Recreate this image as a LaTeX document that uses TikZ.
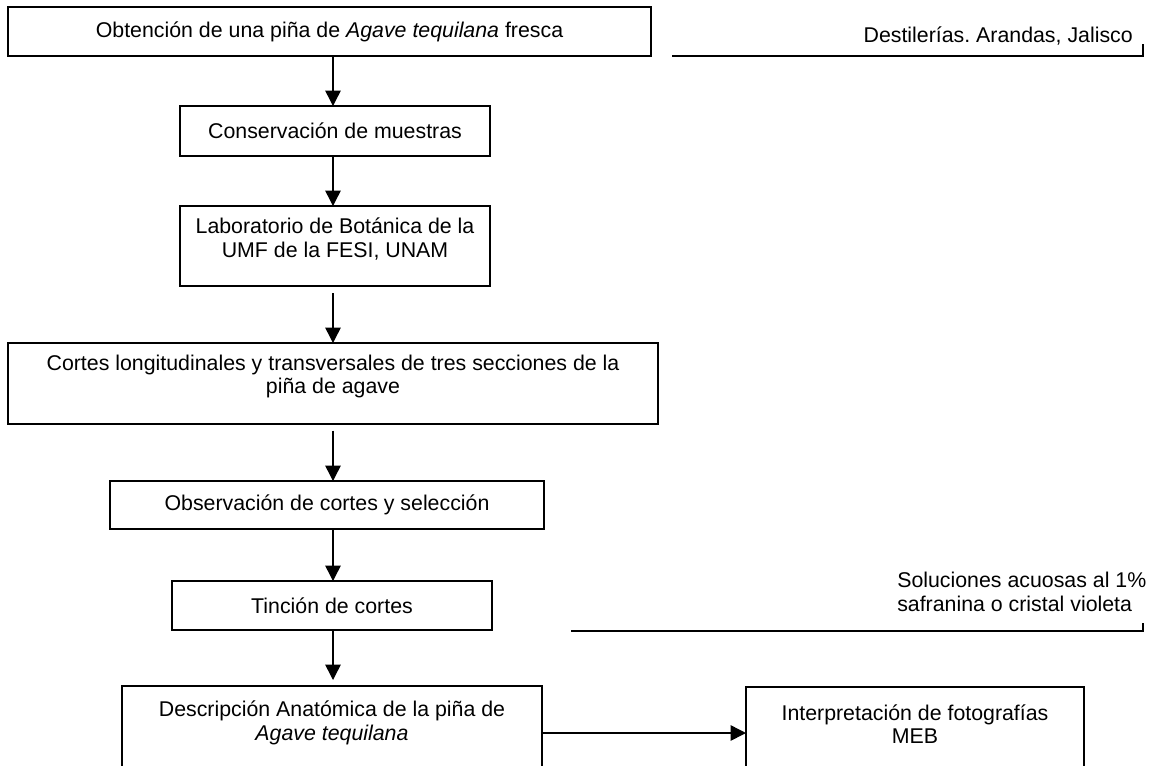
\documentclass[tikz,border=0pt]{standalone}
\usepackage{fontspec}
\setmainfont{Liberation Sans}
\usetikzlibrary{arrows.meta}
\newdimen\pxu
\pxu=0.75pt
\frenchspacing
\begin{document}
\begin{tikzpicture}[x=0.75pt, y=-0.75pt,
  every node/.style={font=\fontsize{16pt}{17.5pt}\selectfont},
  stepbox/.style={draw, line width=1.1pt, inner sep=0pt, outer sep=0pt, anchor=north west},
  flow/.style={line width=1.1pt, -{Triangle[length=11.5pt, width=11.5pt]}},
  bracketline/.style={line width=0.8pt},
  note/.style={inner sep=0pt}]
\useasboundingbox (0,0) rectangle (1149,765);
\clip (0,0) rectangle (1149,765);

% process steps
\node[stepbox] (obt) at (8,7)
  {\parbox[b][49\pxu][c]{643\pxu}{\centering Obtención de una piña de \textit{Agave tequilana} fresca}};
\node[stepbox] (cons) at (180,106)
  {\parbox[b][50\pxu][c]{310\pxu}{\centering Conservación de muestras}};
\node[stepbox] (lab) at (180,206)
  {\parbox[b][80\pxu][c]{310\pxu}{\centering Laboratorio de Botánica de la\\UMF de la FESI, UNAM\par\vspace*{14\pxu}}};
\node[stepbox] (cortes) at (8,343)
  {\parbox[b][81\pxu][c]{650\pxu}{\centering Cortes longitudinales y transversales de tres secciones de la\\piña de agave\par\vspace*{14\pxu}}};
\node[stepbox] (obs) at (110,481)
  {\parbox[b][48\pxu][c]{434\pxu}{\centering Observación de cortes y selección}};
\node[stepbox] (tinc) at (172,581)
  {\parbox[b][49\pxu][c]{320\pxu}{\centering Tinción de cortes}};
\node[stepbox] (desc) at (122,686)
  {\parbox[b][140\pxu][c]{420\pxu}{\centering Descripción Anatómica de la piña de\\\textit{Agave tequilana}\par\vspace*{66\pxu}}};
\node[stepbox] (interp) at (746,687)
  {\parbox[b][140\pxu][c]{338\pxu}{\centering Interpretación de fotografías\\MEB\par\vspace*{66\pxu}}};

% flow arrows
\coordinate (ax) at (333,0);
\coordinate (hy) at (0,733);
\draw[flow] (obt.south -| ax) -- (cons.north -| ax);
\draw[flow] (cons.south -| ax) -- (lab.north -| ax);
\draw[flow, shorten <=5.25pt] (lab.south -| ax) -- (cortes.north -| ax);
\draw[flow, shorten <=5pt] (cortes.south -| ax) -- (obs.north -| ax);
\draw[flow] (obs.south -| ax) -- (tinc.north -| ax);
\draw[flow, shorten >=4.5pt] (tinc.south -| ax) -- (desc.north -| ax);
\draw[flow] (desc.east |- hy) -- (interp.west |- hy);

% side notes
\node[note, anchor=base east] (dest) at (1133,42) {Destilerías. Arandas, Jalisco};
\coordinate (destL) at (672,56);
\coordinate (destR) at (1143,56);
\draw[bracketline] (destL) -- (destR) -- ++(0,-12);

\node[note, anchor=north west, align=left] (sol) at (897,572)
  {Soluciones acuosas al 1\%\\safranina o cristal violeta};
\coordinate (solL) at (571,631);
\coordinate (solR) at (1143,631);
\draw[bracketline] (solL) -- (solR) -- ++(0,-8);
\end{tikzpicture}
\end{document}
